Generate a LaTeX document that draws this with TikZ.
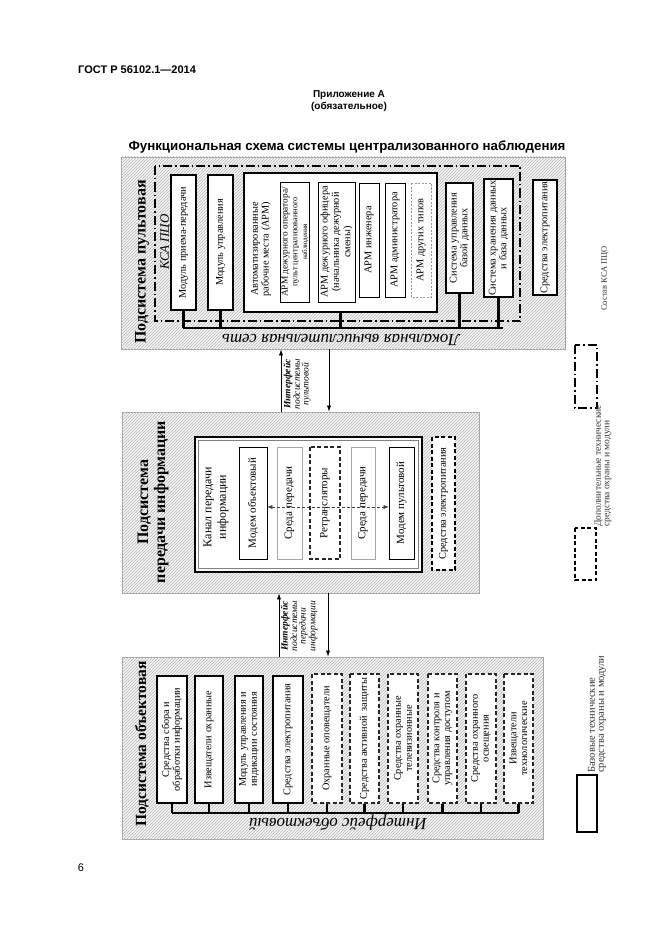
\documentclass[tikz,border=0pt]{standalone}
\usepackage{fontspec}
\setmainfont{Liberation Serif}
\newfontfamily\hdr{Liberation Sans}
\usetikzlibrary{patterns,arrows.meta}
\newcommand\fs{\fontsize{10.3}{10.8}\selectfont}
\newcommand\fm{\fontsize{11}{12}\selectfont}
% style, name, x1, x2, y1, y2 (page px, y down), text  -- box drawn rotated by 90
\newcommand\bx[7]{\node[#1, rotate=90, minimum width={#6-#5}, minimum height={#4-#3}] (#2) at ({(#3+#4)/2},{-(#5+#6)/2}) {#7};}
\tikzset{
  subsys/.style={draw=gray!70, line width=0.7pt, fill=gray!8, inner sep=0pt,
    postaction={pattern=north east lines, pattern color=gray!55}},
  basebox/.style={draw, line width=2.2pt, fill=white, inner sep=1pt, align=center, font=\fs},
  addbox/.style={draw=black!85, line width=1.1pt, dash pattern=on 4pt off 2.5pt, fill=white, inner sep=1pt, align=center, font=\fs},
  addboxB/.style={draw=black, line width=1.5pt, dash pattern=on 4pt off 2.5pt, fill=white, inner sep=1pt, align=center, font=\fs},
  thinbox/.style={draw, line width=0.6pt, fill=white, inner sep=1pt, align=center, font=\fs},
  graybox/.style={draw=gray!70, line width=0.7pt, fill=white, inner sep=1pt, align=center, font=\fs},
  dotbox/.style={draw=gray!80, line width=0.6pt, dash pattern=on 2pt off 1.5pt, fill=white, inner sep=1pt, align=center, font=\fs},
  kcaline/.style={line width=1.3pt, dash pattern=on 9pt off 3pt on 1.5pt off 3pt},
  legK/.style={draw, kcaline, inner sep=0pt},
  legD/.style={draw, line width=1.1pt, dash pattern=on 4pt off 2.5pt, inner sep=0pt},
  legB/.style={draw, line width=2.2pt, inner sep=0pt},
  legtxt/.style={rotate=90, anchor=west, align=left, text=black!80, inner sep=0pt},
  bus/.style={line width=2.2pt},
  arr/.style={line width=0.6pt, -{Latex[length=6pt,width=4pt]}},
  ttl/.style={rotate=90, align=center, font=\fontsize{15.5}{16.5}\selectfont\bfseries},
  iface/.style={rotate=90, align=center, font=\fontsize{9.5}{8.6}\selectfont\itshape},
  rtxt/.style={rotate=90, align=center},
}
\begin{document}
\begin{tikzpicture}[x=1pt,y=1pt]
\useasboundingbox (0,0) rectangle (661,-936);
% header
\node[font=\hdr\bfseries\fontsize{11}{12}\selectfont, anchor=west, inner sep=0pt] (gost) at (78,-70) {ГОСТ Р 56102.1—2014};
\node[font=\hdr\bfseries\fontsize{10}{12}\selectfont, align=center] (pril) at (349,-101) {Приложение А\\(обязательное)};
\node[font=\hdr\bfseries\fontsize{13.3}{15}\selectfont] (title) at (347,-147) {Функциональная схема системы централизованного наблюдения};
\node[font=\hdr\fontsize{11}{12}\selectfont] (pg) at (81,-868) {6};

% ================= top: пультовая
\bx{subsys}{pult}{121}{565}{157}{349}{}
\draw[kcaline] (155,-166) rectangle (520,-321);
\node[ttl, font=\fontsize{16}{17}\selectfont\bfseries] (pultT) at (142,-262) {Подсистема пультовая};
\node[rtxt, font=\fontsize{13}{14}\selectfont\itshape] (ksaT) at (166,-242) {КСА ПЦО};
\bx{basebox}{mpp}{171}{196}{175}{310}{Модуль приема-передачи}
\bx{basebox}{mu}{208}{233}{175}{310}{Модуль управления}
\bx{basebox}{arm}{244}{437}{173}{312}{}
\node[rtxt, font=\fs] (armT) at (261,-249) {Автоматизированные\\ рабочие места (АРМ)};
\bx{thinbox}{arm1}{281}{309}{182}{302}{{\fontsize{9.3}{8.6}\selectfont АРМ дежурного оператора/}\\[-1pt] {\fontsize{8.3}{8}\selectfont пульт централизованного}\\[-1pt] {\fontsize{7}{7}\selectfont наблюдения}}
\bx{thinbox}{arm2}{318}{355}{182}{302}{АРМ дежурного офицера\\[0.5pt] (начальника дежурной\\[0.5pt] смены)}
\bx{thinbox}{arm3}{359}{379}{183}{297}{АРМ инженера}
\bx{thinbox}{arm4}{385}{405}{183}{297}{АРМ администратора}
\bx{dotbox}{arm5}{411}{431}{183}{297}{АРМ других типов}
\bx{basebox}{sud}{446}{473}{183}{293}{Система управления\\ базой данных}
\bx{basebox}{shd}{484}{513}{183}{293}{Система хранения данных\\ и база данных}
\bx{basebox}{sep1}{533}{557}{183}{292}{Средства электропитания}
\coordinate (b1L) at (183,-328);
\coordinate (b1R) at (503,-328);
\draw[bus] (b1L) -- (b1R);
\foreach \n in {mpp,mu,arm,sud,shd} \draw[bus] (\n.west) -- (\n.west |- b1L);
\node[rotate=180, font=\fontsize{17}{17}\selectfont\itshape] (lvs) at (341,-340) {Локальная вычислительная сеть};

% ================= middle: передачи информации
\bx{subsys}{pered}{122}{479}{412}{593}{}
\node[ttl, font=\fontsize{16}{17}\selectfont\bfseries] (peredT) at (153,-502) {Подсистема\\ передачи информации};
\bx{basebox}{kanal}{195}{422}{437}{572}{}
\draw[gray, line width=0.5pt] (198.5,-440.5) rectangle (418.5,-568.5);
\node[rtxt, font=\fontsize{12}{14.5}\selectfont] (kanalT) at (216,-507) {Канал передачи\\ информации};
\bx{thinbox,font=\fm}{mo}{239}{267}{447}{559}{Модем объектовый}
\bx{graybox,font=\fm}{sr1}{277}{302}{447}{559}{Среда передачи}
\bx{addbox,font=\fm}{rt}{310}{340}{447}{559}{Ретрансляторы}
\bx{graybox,font=\fm}{sr2}{351}{375}{447}{559}{Среда передачи}
\bx{thinbox,font=\fm}{mp}{389}{414}{447}{559}{Модем пультовой}
\bx{addboxB}{sep2}{432}{455}{437}{570}{Средства электропитания}
\draw[gray!50!black, line width=0.5pt, dash pattern=on 3pt off 2pt, {Latex[length=5pt,width=4pt]}-{Latex[length=5pt,width=4pt]}] ([yshift=-4pt]mo.south) -- ([yshift=-4pt]mp.north);

% interface пультовой
\coordinate (i1u) at (281,0);
\coordinate (i1d) at (329,0);
\draw[arr] (i1u |- pered.east) -- (i1u |- pult.west);
\draw[arr] (i1d |- pult.west) -- (i1d |- pered.east);
\node[iface] (if1) at (297,-384) {\textbf{Интерфейс}\\ подсистемы\\ пультовой};

% ================= bottom: объектовая
\bx{subsys}{obj}{122}{543}{657}{839}{}
\node[ttl] (objT) at (142,-744) {Подсистема объектовая};
\bx{basebox}{o1}{157}{187}{676}{803}{Средства сбора и\\ обработки информации}
\bx{basebox}{o2}{195}{223}{676}{803}{Извещатели охранные}
\bx{basebox}{o3}{235}{263}{676}{803}{Модуль управления и\\ индикации состояния}
\bx{basebox}{o4}{273}{303}{676}{803}{Средства электропитания}
\bx{addbox}{o5}{312}{342}{674}{803}{Охранные оповещатели}
\bx{addbox}{o6}{350}{379}{674}{803}{Средства активной\ \ защиты}
\bx{addbox}{o7}{388}{418}{674}{803}{Средства охранные\\ телевизионные}
\bx{addbox}{o8}{428}{457}{674}{803}{Средства контроля и\\ управления доступом}
\bx{addbox}{o9}{466}{496}{674}{803}{Средства охранного\\ освещения}
\bx{addbox}{o10}{504}{533}{674}{803}{Извещатели\\ технологические}
\coordinate (b2L) at (172,-813);
\coordinate (b2R) at (518.5,-813);
\draw[bus] (b2L) -- (b2R);
\foreach \n in {o1,o2,o3,o4,o5,o6,o7,o8,o9,o10} \draw[bus] (\n.west) -- (\n.west |- b2L);
\node[rotate=180, font=\fontsize{17}{17}\selectfont\itshape] (ifo) at (338,-823) {Интерфейс объектовый};

% interface передачи информации
\coordinate (i2u) at (279,0);
\coordinate (i2d) at (328,0);
\draw[arr] (i2u |- obj.east) -- (i2u |- pered.west);
\draw[arr] (i2d |- pered.west) -- (i2d |- obj.east);
\node[iface] (if2) at (299,-626) {\textbf{Интерфейс}\\ подсистемы\\ передачи\\ информации};

% ================= legend
\bx{legK}{lg1}{575}{597}{345}{408}{}
\node[legtxt, font=\fontsize{8.5}{8}\selectfont] (lg1t) at (605,-311) {Состав КСА ПЦО};
\bx{legD}{lg2}{575}{596}{528}{580}{}
\node[legtxt, font=\fontsize{9.5}{8.5}\selectfont] (lg2t) at (603,-527) {Дополнительные технические\\ средства охраны и модули};
\bx{legB}{lg3}{577}{597}{775}{832}{}
\node[legtxt, font=\fontsize{10.5}{9}\selectfont] (lg3t) at (597,-773) {Базовые технические\\ средства охраны и модули};
\end{tikzpicture}
\end{document}
